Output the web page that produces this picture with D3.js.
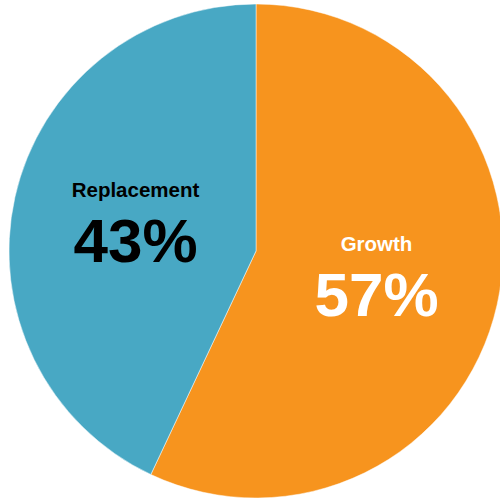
<!DOCTYPE html>
<html>
<head>
<meta charset="utf-8">
<script src="https://cdn.jsdelivr.net/npm/d3@7"></script>
<style>
  html, body { margin: 0; padding: 0; background: #fff; }
  svg { display: block; }
</style>
</head>
<body>
<svg id="chart" width="500" height="500"></svg>
<script>
// Share of hires by type
const categories = ["Growth", "Replacement"];
const shares = [57, 43];
const colors = ["#F7941E", "#48A8C4"];
const textColors = ["#ffffff", "#000000"];

const width = 500, height = 500;
const cx = 256, cy = 251, radius = 247;

const svg = d3.select("#chart");
const g = svg.append("g").attr("transform", `translate(${cx},${cy})`);

const pie = d3.pie().sort(null).value(d => d.value);
const arc = d3.arc().innerRadius(0).outerRadius(radius);

const data = categories.map((c, i) => ({ name: c, value: shares[i], color: colors[i], text: textColors[i] }));
const arcs = pie(data);

g.selectAll("path.slice")
  .data(arcs)
  .enter().append("path")
  .attr("class", "slice")
  .attr("d", arc)
  .attr("fill", d => d.data.color)
  .attr("stroke", "rgba(255,255,255,0.6)")
  .attr("stroke-width", 0.8);

const labels = g.selectAll("g.label")
  .data(arcs)
  .enter().append("g")
  .attr("class", "label")
  .attr("transform", d => `translate(${arc.centroid(d)})`);

labels.append("text")
  .attr("text-anchor", "middle")
  .attr("y", -27)
  .attr("font-family", "'Liberation Sans', Arial, sans-serif")
  .attr("font-weight", "bold")
  .attr("font-size", 20.5)
  .attr("fill", d => d.data.text)
  .text(d => d.data.name);

labels.append("text")
  .attr("text-anchor", "middle")
  .attr("y", 38)
  .attr("font-family", "'Liberation Sans', Arial, sans-serif")
  .attr("font-weight", "bold")
  .attr("font-size", 62)
  .attr("fill", d => d.data.text)
  .text(d => d.data.value + "%");
</script>
</body>
</html>
